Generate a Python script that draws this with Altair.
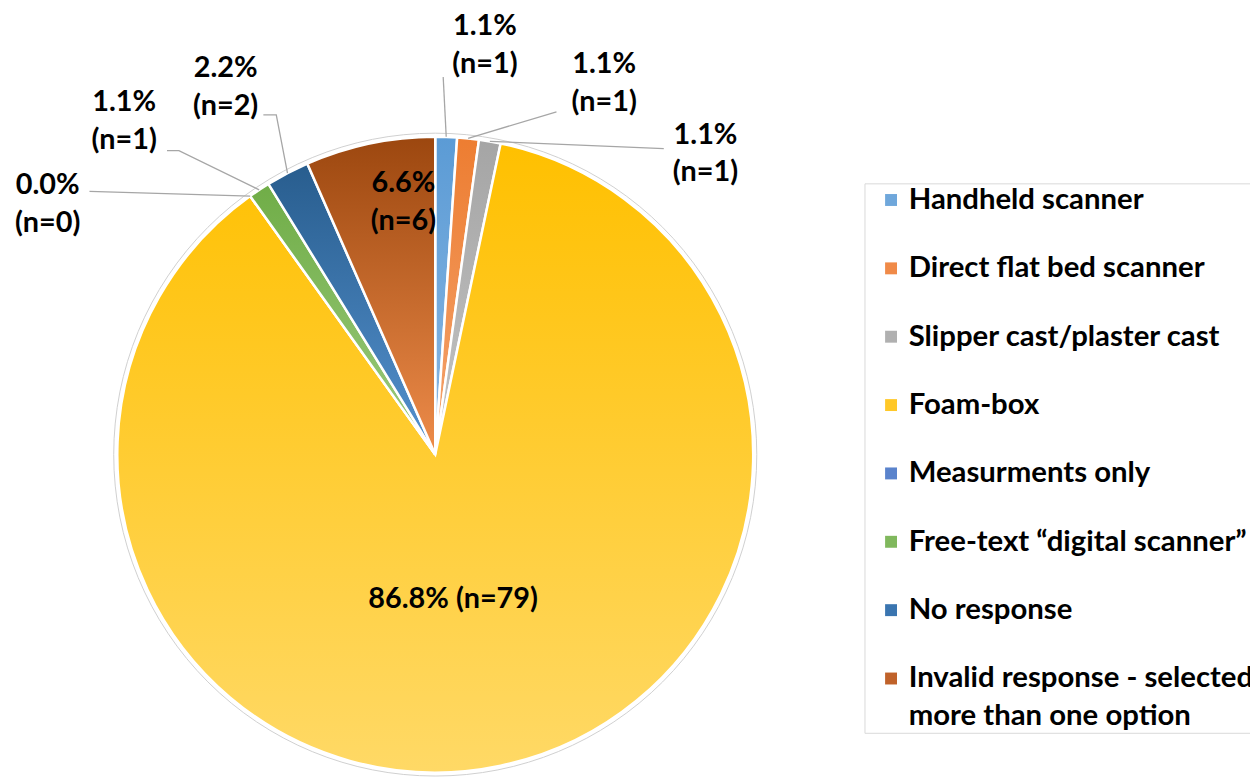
import math
import altair as alt
import pandas as pd

# ---------------- data ----------------
categories = [
    "Handheld scanner",
    "Direct flat bed scanner",
    "Slipper cast/plaster cast",
    "Foam-box",
    "Measurments only",
    "Free-text \u201cdigital scanner\u201d",
    "No response",
    "Invalid response - selected more than one option",
]
counts = [1, 1, 1, 79, 0, 1, 2, 6]

# ---------------- styles ----------------
top_colors = ["#5B9BD5", "#ED7D31", "#A5A5A5", "#FFC000", "#4472C4", "#70AD47", "#285D8E", "#9C470F"]
bottom_colors = ["#8BB8E4", "#F4A46F", "#C4C4C4", "#FFD966", "#7A9BD6", "#9CCB7F", "#5592CF", "#EE8C4A"]
legend_colors = ["#6FA7DB", "#F08A48", "#B0B0B0", "#FFC828", "#5A83CC", "#80B85D", "#3A75B0", "#C0622A"]

FONT = "Lato"
total = sum(counts)

# layout (pixels)
W, H = 860, 646
PAD_T = 124
CX, CY = W / 2, H / 2
R = 320

# label placement (first text line) relative to pie centre (layout, not data)
label_offset = {
    "Handheld scanner": (50, -431),
    "Direct flat bed scanner": (170, -393),
    "Slipper cast/plaster cast": (272, -322),
    "Foam-box": (18, 145),
    "Measurments only": (-390, -271),
    "Free-text \u201cdigital scanner\u201d": (-313, -355),
    "No response": (-211, -389),
    "Invalid response - selected more than one option": (-32, -273),
}
one_line = {"Foam-box"}
# leader line bend / end points relative to centre
leader_pts = {
    "Handheld scanner": [(8, -380)],
    "Direct flat bed scanner": [(122, -345)],
    "Slipper cast/plaster cast": [(230, -308)],
    "Measurments only": [(-348, -265)],
    "Free-text \u201cdigital scanner\u201d": [(-258, -306), (-270, -306)],
    "No response": [(-160, -342), (-173, -342)],
}

# ---------------- tables ----------------
df = pd.DataFrame({"category": categories, "count": counts, "order": list(range(len(categories)))})

rows = []
lead_rows = []
cum = 0
for cat, c in zip(categories, counts):
    pct = f"{c / total * 100:.1f}%"
    n = f"(n={c})"
    text = f"{pct} {n}" if cat in one_line else [pct, n]
    ox, oy = label_offset[cat]
    rows.append({"category": cat, "text": text, "lx": CX + ox, "ly": CY + oy})
    mid = (cum + c / 2) / total * 2 * math.pi
    cum += c
    if cat in leader_pts:
        pts = [(R * math.sin(mid), -R * math.cos(mid))] + leader_pts[cat]
        for k, (px, py) in enumerate(pts):
            lead_rows.append({"category": cat, "seq": k, "x": CX + px, "y": CY + py})
labels_df = pd.DataFrame(rows)
leaders_df = pd.DataFrame(lead_rows)

# ---------------- chart ----------------
theta_scale = alt.Scale(domain=[0, total], range=[0, 2 * math.pi])
base = alt.Chart(df).transform_window(
    cum="sum(count)", sort=[alt.SortField("order")], frame=[None, 0]
).transform_calculate(start="datum.cum - datum.count")

long_label = categories[-1]
legend = alt.Legend(
    title=None,
    orient="none",
    legendX=862,
    legendY=182 - 8 - PAD_T,
    labelFont=FONT,
    labelFontSize=29.5,
    labelFontWeight="bold",
    labelColor="black",
    labelLimit=1000,
    labelBaseline="middle",
    symbolType="square",
    symbolSize=144,
    symbolStrokeWidth=0,
    symbolOffset=10,
    labelOffset=3,
    rowPadding=37.8,
    padding=2,
    strokeColor="#D9D9D9",
    fillColor="white",
    labelExpr=f"datum.label == '{long_label}' ? ['Invalid response - selected', 'more than one option'] : datum.label",
)

# thin outline ring around the pie
ring = base.transform_aggregate(total="sum(count)").mark_arc(
    outerRadius=R + 3.5, stroke="#D0D0D0", strokeWidth=1, fillOpacity=0
).encode(theta=alt.Theta("total:Q", scale=theta_scale))

pie_base = base.mark_arc(outerRadius=R, stroke="white", strokeWidth=2.5).encode(
    theta=alt.Theta("start:Q", scale=theta_scale),
    theta2=alt.Theta2("cum:Q"),
    fill=alt.Fill("category:N", scale=alt.Scale(domain=categories, range=legend_colors), legend=legend),
)

layers = [ring, pie_base]
for i, cat in enumerate(categories):
    grad = alt.LinearGradient(
        gradient="linear",
        x1=0, x2=0, y1=0, y2=1,
        stops=[
            alt.GradientStop(color=top_colors[i], offset=0),
            alt.GradientStop(color=bottom_colors[i], offset=1),
        ],
    )
    layers.append(
        base.transform_filter(alt.datum.order == i)
        .mark_arc(outerRadius=R, stroke="white", strokeWidth=2.5, fill=grad)
        .encode(theta=alt.Theta("start:Q", scale=theta_scale), theta2=alt.Theta2("cum:Q"))
    )

leaders = alt.Chart(leaders_df).mark_line(stroke="#A6A6A6", strokeWidth=1.3).encode(
    x=alt.X("x:Q", scale=None),
    y=alt.Y("y:Q", scale=None),
    detail="category:N",
    order="seq:Q",
)

labels = alt.Chart(labels_df).mark_text(
    font=FONT, fontSize=29, fontWeight="bold", color="black",
    align="center", baseline="middle", lineHeight=38,
).encode(
    x=alt.X("lx:Q", scale=None),
    y=alt.Y("ly:Q", scale=None),
    text=alt.Text("text:N"),
)

chart = alt.layer(*layers, leaders, labels).properties(
    width=W,
    height=H,
    padding={"left": 0, "top": PAD_T, "right": 1250 - W, "bottom": 0},
    autosize=alt.AutoSizeParams(type="none"),
).configure(style={"guide-label": {"lineHeight": 38}}).configure_view(stroke=None)

chart.save("out.html", embed_options={"renderer": "svg", "actions": False})
